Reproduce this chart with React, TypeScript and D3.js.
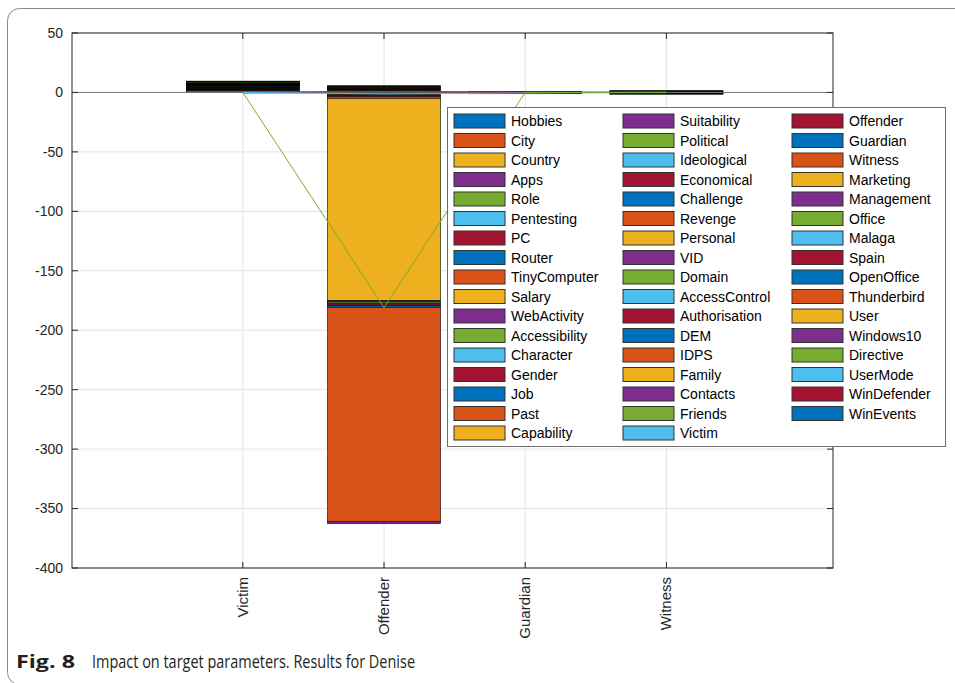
import React from "react";
import * as d3 from "d3";

const categories = ["Victim", "Offender", "Guardian", "Witness"];

const seriesNames = [
  "Hobbies", "City", "Country", "Apps", "Role", "Pentesting", "PC", "Router", "TinyComputer",
  "Salary", "WebActivity", "Accessibility", "Character", "Gender", "Job", "Past", "Capability",
  "Suitability", "Political", "Ideological", "Economical", "Challenge", "Revenge", "Personal",
  "VID", "Domain", "AccessControl", "Authorisation", "DEM", "IDPS", "Family", "Contacts",
  "Friends", "Victim", "Offender", "Guardian", "Witness", "Marketing", "Management", "Office",
  "Malaga", "Spain", "OpenOffice", "Thunderbird", "User", "Windows10", "Directive", "UserMode",
  "WinDefender", "WinEvents",
];

// values per category, in the order of seriesNames
const victimValues = [
  0.3, 0.2, 1.2, 0.3, 0.2, 0.2, 0.3, 0.2, 0.2, 0.3, 0.2, 0.2, 0.2, 0.2, 0.2, 0.2, 0.2,
  0.2, 0.2, 0.2, 0.2, 0.2, 0.1, 0.1, 0.1, 0.1, 0.1, 0.1, 0.1, 0.1, 0.1, 0.1, 0.1,
  0.1, 0.1, 0.1, 0.1, 0.1, 0.1, 0.1, 0.1, 0.1, 0.1, 0.1, 0.1, 0.1, 1.0, 0.1, 0.1, 0.1,
];
const offenderValues = [
  -0.8, 0.5, -1.0, 0.4, -0.7, 0.3, -1.2, 0.4, -1.3, -170, -1.0, -1.2, -0.8, -1.5, -1.2, -180, 0.3,
  -2.0, 0.4, 0.3, 0.5, 0.3, 0.3, 0.4, 0.3, 0.3, 0.2, 0.3, 0.2, 0.2, 0, 0, 0,
  0, 0, 0, 0, 0, 0, 0, 0, 0, 0, 0, 0, 0, 0, 0, 0, 0,
];
const guardianValues = [
  -0.2, 0.1, -0.2, 0.1, -0.1, 0.1, -0.2, 0.1, -0.1, 0.1, -0.1, 0.1, -0.1, 0.1, -0.1, 0.1, 0,
  0, 0, 0, 0, 0, 0, 0, 0, 0, 0, 0, 0, 0, 0, 0, 0,
  0, 0, 0, 0, 0, 0, 0, 0, 0, 0, 0, 0, 0, 0, 0, 0, 0,
];
const witnessValues = [
  0.2, -0.2, 0.1, -0.2, 0.2, -0.1, 0.2, -0.2, 0.1, -0.1, 0.1, -0.1, 0.2, -0.2, 0.1, -0.1, 0.1,
  -0.1, 0.1, -0.1, 0, 0, 0, 0, 0, 0, 0, 0, 0, 0, 0, 0, 0,
  0, 0, 0, 0, 0, 0, 0, 0, 0, 0, 0, 0, 0, 0, 0, 0, 0,
];

// overlaid line traces (series name, value at each category)
const lineSeries = ["PC", "Hobbies", "City", "Apps", "Ideological", "Role"];
const lineValues = [
  [-0.2, 0.3, 0, 0.1],
  [-0.4, -0.3, 0.1, 0.2],
  [0.2, 0.6, 0, 0],
  [0.1, 0.8, 0.3, -0.3],
  [0, -1.2, -0.6, 0],
  [0, -181, 0, 0],
];

const yTicks = [50, 0, -50, -100, -150, -200, -250, -300, -350, -400];

const palette = ["#0072BD", "#D95319", "#EDB120", "#7E2F8E", "#77AC30", "#4DBEEE", "#A2142F"];

export default function App() {
  const left = 72, right = 833, top = 33, bottom = 568;
  const x = d3.scaleLinear().domain([-0.21, 5.18]).range([left, right]);
  const y = d3.scaleLinear().domain([-400, 50]).range([bottom, top]);
  const step = x(2) - x(1);
  const barW = 0.8 * step;

  const allValues = [victimValues, offenderValues, guardianValues, witnessValues];
  const rows = categories.map((c, ci) => {
    const r: any = { cat: c, idx: ci + 1 };
    seriesNames.forEach((s, si) => (r[s] = allValues[ci][si]));
    return r;
  });
  const stacked = d3.stack().keys(seriesNames).offset(d3.stackOffsetDiverging)(rows);

  const colorOf = (name: string) => palette[seriesNames.indexOf(name) % palette.length];

  const line = d3
    .line<number>()
    .x((_, i) => x(i + 1))
    .y((d) => y(d));

  const font = "Liberation Sans, Arimo, Arial, Helvetica, sans-serif";
  const axisColor = "#262626";

  // legend layout
  const legX = 447, legY = 107, legW = 498, legH = 339;
  const rowsPerCol = 17;
  const rowH = 19.5;
  const colW = 169;

  return (
    <svg width={955} height={683} style={{ position: "absolute", left: 0, top: 0, background: "#fff" }}>
      <rect x={7.5} y={8.5} width={1000} height={676} rx={12} fill="none" stroke="#8a8a8a" strokeWidth={1} />

      {/* grid */}
      {yTicks.map((t) => (
        <line key={"gy" + t} x1={left} x2={right} y1={y(t)} y2={y(t)} stroke="#e3e3e3" strokeWidth={1} />
      ))}
      {categories.map((c, i) => (
        <line key={"gx" + c} x1={x(i + 1)} x2={x(i + 1)} y1={top} y2={bottom} stroke="#e3e3e3" strokeWidth={1} />
      ))}

      {/* bars */}
      {stacked.map((layer, li) => (
        <g key={layer.key}>
          {layer.map((seg, ci) => {
            const y0 = y(seg[0]);
            const y1 = y(seg[1]);
            if (Math.abs(seg[1] - seg[0]) < 1e-9) return null;
            return (
              <rect
                key={ci}
                x={x(ci + 1) - barW / 2}
                y={Math.min(y0, y1)}
                width={barW}
                height={Math.abs(y1 - y0)}
                fill={palette[li % palette.length]}
                stroke="#000"
                strokeWidth={0.6}
              />
            );
          })}
        </g>
      ))}

      {/* baseline */}
      <line x1={left} x2={right} y1={y(0)} y2={y(0)} stroke="#7a7a7a" strokeWidth={1} />

      {/* lines */}
      {lineValues.map((vals, i) => (
        <path key={"l" + i} d={line(vals) || ""} fill="none" stroke={colorOf(lineSeries[i])} strokeWidth={1} />
      ))}

      {/* axes box */}
      <rect x={left} y={top} width={right - left} height={bottom - top} fill="none" stroke={axisColor} strokeWidth={1} />
      {yTicks.map((t) => (
        <g key={"ty" + t}>
          <line x1={left} x2={left + 6} y1={y(t)} y2={y(t)} stroke={axisColor} />
          <line x1={right - 6} x2={right} y1={y(t)} y2={y(t)} stroke={axisColor} />
          <text x={left - 9} y={y(t)} dy="0.35em" textAnchor="end" fontFamily={font} fontSize={14} fill="#262626">
            {t}
          </text>
        </g>
      ))}
      {categories.map((c, i) => (
        <g key={"tx" + c}>
          <line x1={x(i + 1)} x2={x(i + 1)} y1={bottom} y2={bottom - 6} stroke={axisColor} />
          <line x1={x(i + 1)} x2={x(i + 1)} y1={top} y2={top + 6} stroke={axisColor} />
          <text
            transform={`translate(${x(i + 1) + 5},${bottom + 9}) rotate(-90)`}
            textAnchor="end"
            fontFamily={font}
            fontSize={15}
            fill="#262626"
          >
            {c}
          </text>
        </g>
      ))}

      {/* legend */}
      <rect x={legX + 0.5} y={legY + 0.5} width={legW} height={legH} fill="#fff" stroke="#6e6e6e" strokeWidth={1} />
      {seriesNames.map((s, i) => {
        const col = Math.floor(i / rowsPerCol);
        const row = i % rowsPerCol;
        const sx = legX + 7 + col * colW;
        const cy = legY + 14 + row * rowH;
        return (
          <g key={"lg" + s}>
            <rect x={sx} y={cy - 7} width={51} height={14} fill={palette[i % palette.length]} stroke="#333" strokeWidth={1} />
            <text x={sx + 57} y={cy} dy="0.36em" fontFamily={font} fontSize={14} fill="#000">
              {s}
            </text>
          </g>
        );
      })}

      {/* caption */}
      <text
        x={16}
        y={668}
        fontFamily="'Open Sans', 'Noto Sans', sans-serif"
        fontSize={18}
        fill="#231f20"
        fontWeight="bold"
        textLength={59}
        lengthAdjust="spacingAndGlyphs"
      >
        Fig. 8
      </text>
      <text
        x={92}
        y={668}
        fontFamily="'Open Sans', 'Noto Sans', sans-serif"
        fontSize={17.5}
        fill="#231f20"
        textLength={323}
        lengthAdjust="spacingAndGlyphs"
      >
        Impact on target parameters. Results for Denise
      </text>
    </svg>
  );
}
